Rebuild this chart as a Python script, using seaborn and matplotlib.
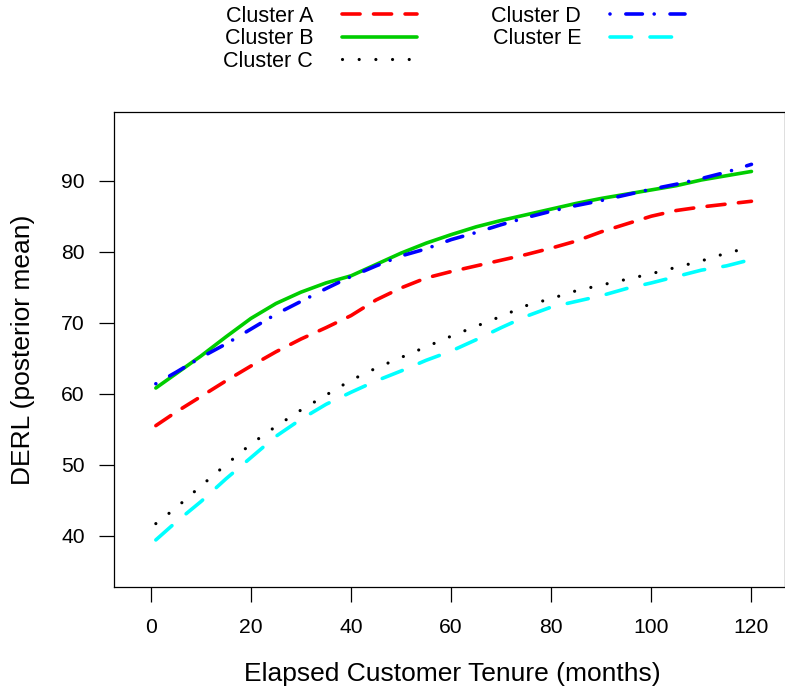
import numpy as np
import pandas as pd
import matplotlib
matplotlib.use("Agg")
import matplotlib.pyplot as plt
import seaborn as sns

# ── DATA ──────────────────────────────────────────────────────
months = [1, 5, 10, 15, 20, 25, 30, 35, 40, 45, 50, 55, 60,
          65, 70, 75, 80, 85, 90, 95, 100, 105, 110, 115, 120]
months_c = months[:-1] + [118]

cluster_a = [55.5, 57.4, 59.6, 61.8, 63.9, 65.9, 67.7, 69.3, 71.0, 73.2, 74.9, 76.3, 77.2,
             78.0, 78.8, 79.6, 80.5, 81.5, 82.8, 83.9, 85.0, 85.8, 86.3, 86.7, 87.1]
cluster_b = [60.8, 62.8, 65.3, 68.0, 70.6, 72.7, 74.3, 75.6, 76.6, 78.2, 79.8, 81.2, 82.4,
             83.5, 84.4, 85.2, 86.0, 86.8, 87.5, 88.1, 88.7, 89.3, 90.1, 90.7, 91.3]
cluster_c = [41.7, 43.9, 47.0, 50.0, 52.9, 55.4, 57.7, 59.8, 61.9, 63.6, 65.1, 66.6, 68.1,
             69.5, 70.9, 72.4, 73.4, 74.5, 75.3, 76.1, 76.9, 77.8, 78.7, 79.8, 80.3]
cluster_d = [61.4, 63.0, 65.1, 67.0, 69.1, 71.2, 73.0, 74.8, 76.5, 78.0, 79.4, 80.4, 81.7,
             82.7, 83.8, 84.8, 85.7, 86.5, 87.2, 88.0, 88.8, 89.5, 90.3, 91.2, 92.3]
cluster_e = [39.4, 41.9, 44.8, 48.0, 51.0, 54.0, 56.4, 58.5, 60.2, 61.8, 63.2, 64.7, 66.0,
             67.6, 69.3, 70.9, 72.2, 73.0, 73.8, 74.8, 75.6, 76.5, 77.4, 78.0, 78.9]

labels = ["Cluster A", "Cluster B", "Cluster C", "Cluster D", "Cluster E"]

frames = []
for lab, xs, ys in zip(labels,
                       [months, months, months_c, months, months],
                       [cluster_a, cluster_b, cluster_c, cluster_d, cluster_e]):
    frames.append(pd.DataFrame({"month": xs, "derl": ys, "cluster": lab}))
df = pd.concat(frames, ignore_index=True)

# ── STYLE ─────────────────────────────────────────────────────
sns.set_style("ticks")
plt.rcParams["font.family"] = ["Liberation Sans", "DejaVu Sans"]
plt.rcParams["text.color"] = "black"
plt.rcParams["axes.labelcolor"] = "black"
plt.rcParams["lines.scale_dashes"] = False
plt.rcParams["lines.dash_capstyle"] = "round"
plt.rcParams["lines.solid_capstyle"] = "round"

palette = {"Cluster A": "#FF0000", "Cluster B": "#00CD00", "Cluster C": "#000000",
           "Cluster D": "#0000FF", "Cluster E": "#00FFFF"}
dashes = {"Cluster A": (13, 9.7), "Cluster B": "", "Cluster C": (0.01, 12),
          "Cluster D": (0.01, 11.4, 11.9, 8.5), "Cluster E": (15.5, 13.3)}

fig = plt.figure(figsize=(7.85, 6.9), dpi=100)
W, H = 785, 690
ax = fig.add_axes([114.3 / W, 1 - 587.3 / H, (784.5 - 114.3) / W, (587.3 - 112.3) / H])

sns.lineplot(data=df, x="month", y="derl", hue="cluster", style="cluster",
             palette=palette, dashes=dashes, linewidth=2.6, sort=False,
             ax=ax, legend=False)
for line in ax.get_lines():
    line.set_dash_capstyle("round")
    line.set_solid_capstyle("round")
    if line.get_color() in ("#000000", "black"):
        line.set_linewidth(2.3)

ax.set_xlim(-7.3, 126.6)
ax.set_ylim(32.73, 99.63)
ax.set_xticks([0, 20, 40, 60, 80, 100, 120])
ax.set_yticks([40, 50, 60, 70, 80, 90])
for s in ax.spines.values():
    s.set_visible(True)
    s.set_color("black")
    s.set_linewidth(0.9)
ax.tick_params(axis="both", direction="out", length=10.8, width=0.9,
               labelsize=15.2, colors="black")
ax.tick_params(axis="x", pad=11.5)
ax.tick_params(axis="y", pad=10.5)
ax.set_xlabel("")
ax.set_ylabel("")

fig.text(452 / W, 1 - 680.5 / H, "Elapsed Customer Tenure (months)",
         ha="center", va="baseline", fontsize=19.0)
fig.text(23 / W, 1 - 350 / H, "DERL (posterior mean)", rotation=90,
         ha="center", va="center", fontsize=19.0)

# legend above the plot, text before the line sample
handles = []
for lab in labels:
    d = dashes[lab]
    ls = "-" if d == "" else (0, d)
    lw = 2.3 if lab == "Cluster C" else 2.6
    h, = ax.plot([], [], color=palette[lab], linestyle=ls, linewidth=lw,
                 dash_capstyle="round", solid_capstyle="round")
    handles.append(h)
fig.legend(handles, labels, loc="upper left", bbox_to_anchor=(223.3 / W, 1 - 6.0 / H),
           ncol=2, frameon=False, markerfirst=False, fontsize=15.5,
           handlelength=3.5, handletextpad=1.35, columnspacing=3.43,
           labelspacing=0.06, borderaxespad=0.0, borderpad=0.0)

plt.savefig("out.png", dpi=100)
plt.close()
